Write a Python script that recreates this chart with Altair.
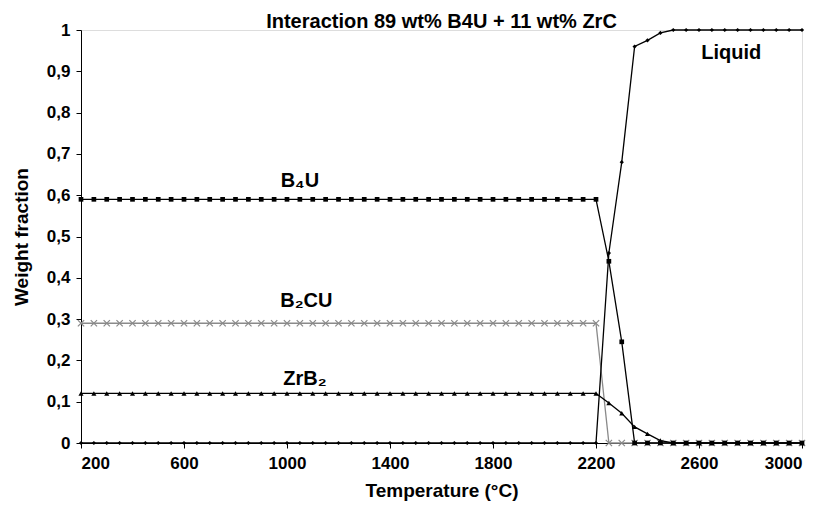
import altair as alt
import pandas as pd

temps = [200, 250, 300, 350, 400, 450, 500, 550, 600, 650,
         700, 750, 800, 850, 900, 950, 1000, 1050, 1100, 1150,
         1200, 1250, 1300, 1350, 1400, 1450, 1500, 1550, 1600, 1650,
         1700, 1750, 1800, 1850, 1900, 1950, 2000, 2050, 2100, 2150,
         2200, 2250, 2300, 2350, 2400, 2450, 2500, 2550, 2600, 2650,
         2700, 2750, 2800, 2850, 2900, 2950, 3000]

b4u = [0.59, 0.59, 0.59, 0.59, 0.59, 0.59, 0.59, 0.59, 0.59, 0.59,
       0.59, 0.59, 0.59, 0.59, 0.59, 0.59, 0.59, 0.59, 0.59, 0.59,
       0.59, 0.59, 0.59, 0.59, 0.59, 0.59, 0.59, 0.59, 0.59, 0.59,
       0.59, 0.59, 0.59, 0.59, 0.59, 0.59, 0.59, 0.59, 0.59, 0.59,
       0.59, 0.44, 0.245, 0.0, 0.0, 0.0, 0.0, 0.0, 0.0, 0.0,
       0.0, 0.0, 0.0, 0.0, 0.0, 0.0, 0.0]

b2cu = [0.29, 0.29, 0.29, 0.29, 0.29, 0.29, 0.29, 0.29, 0.29, 0.29,
        0.29, 0.29, 0.29, 0.29, 0.29, 0.29, 0.29, 0.29, 0.29, 0.29,
        0.29, 0.29, 0.29, 0.29, 0.29, 0.29, 0.29, 0.29, 0.29, 0.29,
        0.29, 0.29, 0.29, 0.29, 0.29, 0.29, 0.29, 0.29, 0.29, 0.29,
        0.29, 0.0, 0.0, 0.0, 0.0, 0.0, 0.0, 0.0, 0.0, 0.0,
        0.0, 0.0, 0.0, 0.0, 0.0, 0.0, 0.0]

zrb2 = [0.12, 0.12, 0.12, 0.12, 0.12, 0.12, 0.12, 0.12, 0.12, 0.12,
        0.12, 0.12, 0.12, 0.12, 0.12, 0.12, 0.12, 0.12, 0.12, 0.12,
        0.12, 0.12, 0.12, 0.12, 0.12, 0.12, 0.12, 0.12, 0.12, 0.12,
        0.12, 0.12, 0.12, 0.12, 0.12, 0.12, 0.12, 0.12, 0.12, 0.12,
        0.12, 0.097, 0.072, 0.039, 0.022, 0.006, 0.0, 0.0, 0.0, 0.0,
        0.0, 0.0, 0.0, 0.0, 0.0, 0.0, 0.0]

liquid = [0.0, 0.0, 0.0, 0.0, 0.0, 0.0, 0.0, 0.0, 0.0, 0.0,
          0.0, 0.0, 0.0, 0.0, 0.0, 0.0, 0.0, 0.0, 0.0, 0.0,
          0.0, 0.0, 0.0, 0.0, 0.0, 0.0, 0.0, 0.0, 0.0, 0.0,
          0.0, 0.0, 0.0, 0.0, 0.0, 0.0, 0.0, 0.0, 0.0, 0.0,
          0.0, 0.46, 0.68, 0.96, 0.975, 0.993, 1.0, 1.0, 1.0, 1.0,
          1.0, 1.0, 1.0, 1.0, 1.0, 1.0, 1.0]

label_text = ["B\u2084U", "B\u2082CU", "ZrB\u2082", "Liquid"]
label_x = [1050, 1075, 1070, 2725]
label_y = [0.635, 0.345, 0.155, 0.945]

x_ticks = [200, 600, 1000, 1400, 1800, 2200, 2600, 3000]

FONT = "Liberation Sans"

x_enc = alt.X("T:Q",
              scale=alt.Scale(domain=[200, 3000], nice=False, zero=False),
              axis=alt.Axis(values=x_ticks, format="d", title="Temperature (°C)", grid=False,
                            labelFontSize=17, labelFontWeight="bold", labelPadding=7,
                            titleFontSize=19, titleFontWeight="bold", titlePadding=10,
                            tickSize=5, domainColor="black", tickColor="black",
                            labelColor="black", titleColor="black",
                            labelFont=FONT, titleFont=FONT))
y_enc = alt.Y("v:Q",
              scale=alt.Scale(domain=[0, 1], nice=False),
              axis=alt.Axis(values=[0, 0.1, 0.2, 0.3, 0.4, 0.5, 0.6, 0.7, 0.8, 0.9, 1.0],
                            labelExpr="replace(format(datum.value, '.1~f'), '.', ',')",
                            title="Weight fraction", grid=False,
                            labelFontSize=17, labelFontWeight="bold", labelPadding=6,
                            titleFontSize=19, titleFontWeight="bold", titlePadding=15,
                            tickSize=5, domainColor="black", tickColor="black",
                            labelColor="black", titleColor="black",
                            labelFont=FONT, titleFont=FONT))


def series(vals, color, shape, size, filled=True, sw=1.3):
    df = pd.DataFrame({"T": temps, "v": vals})
    base = alt.Chart(df)
    line = base.mark_line(color=color, strokeWidth=sw).encode(x=x_enc, y=y_enc)
    if filled:
        pts = base.mark_point(shape=shape, size=size, filled=True, color=color,
                              opacity=1).encode(x=x_enc, y=y_enc)
    else:
        pts = base.mark_point(shape=shape, size=size, filled=False, color=color,
                              strokeWidth=1.2, opacity=1).encode(x=x_enc, y=y_enc)
    return [line, pts]


layers = []
layers += series(b2cu, "#8a8a8a", "M-1,-1L1,1M-1,1L1,-1", 40, filled=False)
layers += series(liquid, "black", "diamond", 18)
layers += series(zrb2, "black", "triangle-up", 26)
layers += series(b4u, "black", "square", 22)

lab_df = pd.DataFrame({"T": label_x, "v": label_y, "t": label_text})
labels = alt.Chart(lab_df).mark_text(fontSize=20, fontWeight="bold", font=FONT,
                                     color="black").encode(
    x=alt.X("T:Q", scale=alt.Scale(domain=[200, 3000], nice=False, zero=False)),
    y=alt.Y("v:Q", scale=alt.Scale(domain=[0, 1], nice=False)),
    text="t:N")
layers.append(labels)

chart = alt.layer(*layers).properties(
    width=721, height=413,
    title=alt.TitleParams("Interaction 89 wt% B4U + 11 wt% ZrC", fontSize=20,
                          fontWeight="bold", font=FONT, anchor="middle", offset=-11,
                          color="black"),
    autosize=alt.AutoSizeParams(type="none"),
    padding={"left": 73, "top": 22, "right": 14, "bottom": 58},
).configure_view(stroke=None).configure(background="white")

chart.save("out.html", embed_options={"renderer": "svg", "actions": False})
